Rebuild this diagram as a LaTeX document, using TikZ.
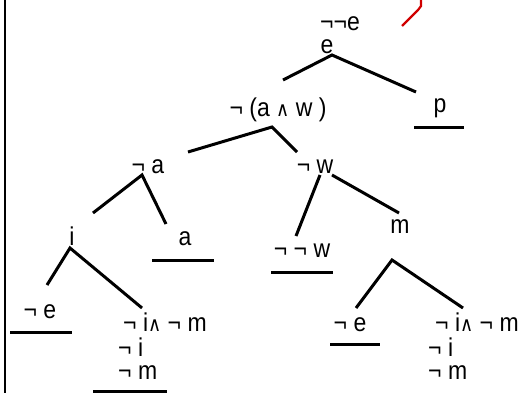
\documentclass[tikz,border=0pt]{standalone}
\usepackage{fontspec}
\setmainfont{Liberation Sans}
\newfontfamily\symfont{DejaVu Sans}
\usetikzlibrary{positioning}
\definecolor{MarkRed}{HTML}{D00000}
\newcommand{\conj}{{\symfont\fontsize{18}{18}\selectfont ∧}}

\begin{document}
\begin{tikzpicture}[x=1pt,y=-1pt,
  every node/.style={font=\fontsize{23}{27}\selectfont,inner sep=0pt,
    text height=15pt,text depth=3pt,transform shape,yscale=1.12},
  lbl/.style={anchor=base},
  lblw/.style={anchor=base west},
  branch/.style={line width=3pt},
  closed/.style={line width=3pt}]
  \useasboundingbox (0,0) rectangle (529,393);
  \draw[line width=2pt] (5,0) -- (5,393);
  \draw[MarkRed,line width=2.2pt] (402,26) -- (418,10) -- (421,6) -- (421,0);
  % labels
  \node[lbl] (nne) at (340,31) {¬¬e};
  \node[lbl] (eRoot) at (327,54) {e};
  \node[lbl] (notAW) at (278,117) {¬ (a \conj\ w )};
  \node[lbl] (pLeaf) at (440,113) {p};
  \node[lbl] (notA) at (148,173) {¬ a};
  \node[lbl] (notW) at (315,173) {¬ w};
  \node[lbl] (iNode) at (72,245) {i};
  \node[lbl] (aLeaf) at (185,245) {a};
  \node[lbl] (mNode) at (400,233) {m};
  \node[lbl] (nnw) at (302,257) {¬ ¬ w};
  \node[lbl] (neL) at (40,318) {¬ e};
  \node[lblw] (conjL) at (123,331) {¬ i\conj\ ¬ m};
  \node[lblw] (niL) at (118,356) {¬ i};
  \node[lblw] (nmL) at (118,379) {¬ m};
  \node[lbl] (neR) at (350,331) {¬ e};
  \node[lblw] (conjR) at (435,331) {¬ i\conj\ ¬ m};
  \node[lblw] (niR) at (428,356) {¬ i};
  \node[lblw] (nmR) at (428,379) {¬ m};
  % forks
  \coordinate (eFork) at (332,55);
  \coordinate (eL) at (283,80);
  \coordinate (eR) at (416,92);
  \coordinate (awFork) at (272,127);
  \coordinate (awL) at (188,152);
  \coordinate (awR) at (297,152);
  \coordinate (aFork) at (142,175);
  \coordinate (aL) at (93,213);
  \coordinate (aR) at (166,224);
  \coordinate (wL0) at (320,175);
  \coordinate (wL) at (296,236);
  \coordinate (wR0) at (332,175);
  \coordinate (wR) at (399,213);
  \coordinate (iFork) at (70,248);
  \coordinate (iL) at (47,285);
  \coordinate (iR) at (142,308);
  \coordinate (mFork) at (392,260);
  \coordinate (mL) at (356,308);
  \coordinate (mR) at (463,308);
  \draw[branch] (eL) -- (eFork) -- (eR);
  \draw[branch] (awL) -- (awFork) -- (awR);
  \draw[branch] (aL) -- (aFork) -- (aR);
  \draw[branch] (wL0) -- (wL);
  \draw[branch] (wR0) -- (wR);
  \draw[branch] (iL) -- (iFork) -- (iR);
  \draw[branch] (mL) -- (mFork) -- (mR);
  % closed branches
  \draw[closed] (414,127) -- (464,127);
  \draw[closed] (152,260) -- (214,260);
  \draw[closed] (271,272) -- (333,272);
  \draw[closed] (10,332) -- (72,332);
  \draw[closed] (93,391.5) -- (167,391.5);
  \draw[closed] (330,344) -- (380,344);
\end{tikzpicture}
\end{document}
